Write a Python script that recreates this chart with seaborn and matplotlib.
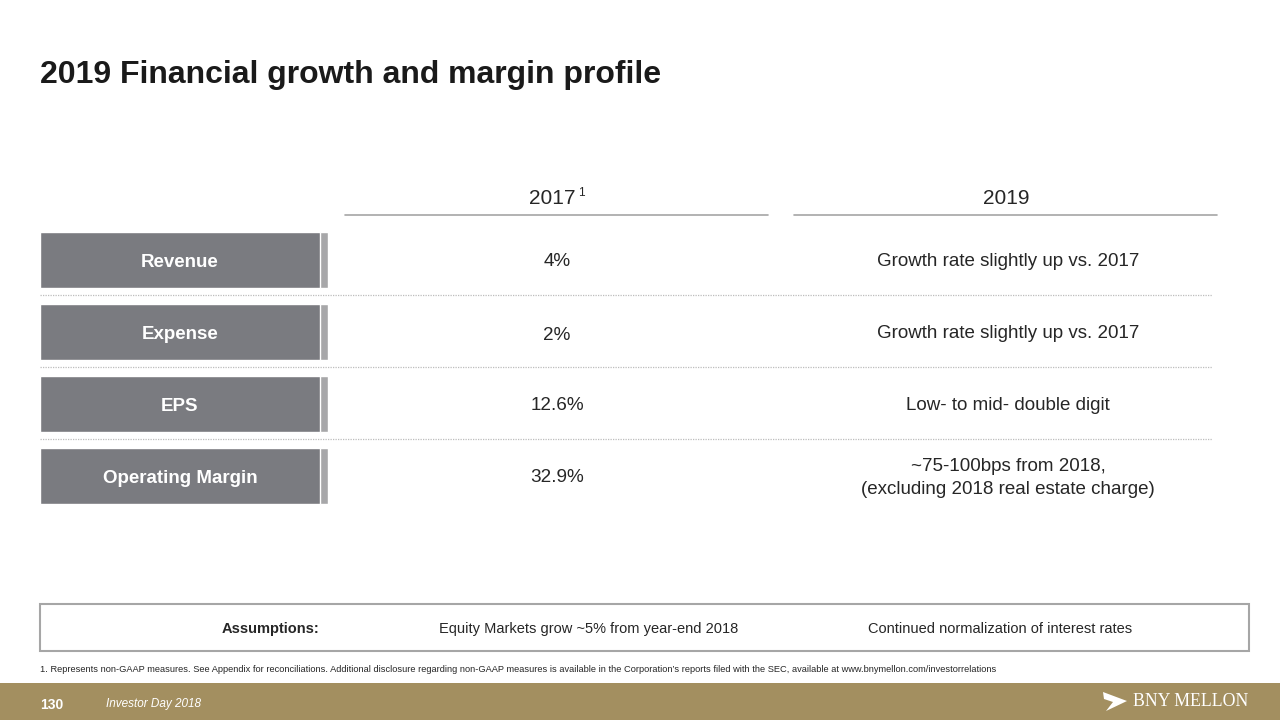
import matplotlib
matplotlib.use("Agg")
import matplotlib.pyplot as plt
import matplotlib.patches as mpatches
import seaborn as sns

# slide content
title = "2019 Financial growth and margin profile"
col_headers = ["2017", "2019"]
col_notes = ["1", ""]
metrics = ["Revenue", "Expense", "EPS", "Operating Margin"]
values_2017 = ["4%", "2%", "12.6%", "32.9%"]
outlook_2019 = ["Growth rate slightly up vs. 2017",
                "Growth rate slightly up vs. 2017",
                "Low- to mid- double digit",
                "~75-100bps from 2018,\n(excluding 2018 real estate charge)"]
assumptions = ["Equity Markets grow ~5% from year-end 2018",
               "Continued normalization of interest rates"]
footnote = ("1. Represents non-GAAP measures. See Appendix for reconciliations. Additional disclosure "
            "regarding non-GAAP measures is available in the Corporation\u2019s reports filed with the SEC, "
            "available at www.bnymellon.com/investorrelations")
page_no = "130"
event = "Investor Day 2018"

sns.set_theme(style="white")
plt.rcParams['font.family'] = ['Liberation Sans', 'DejaVu Sans']

W, H = 1280, 720
fig = plt.figure(figsize=(12.8, 7.2), dpi=100)
fig.patch.set_facecolor("white")

# background axes in pixel coords
ax = fig.add_axes([0, 0, 1, 1])
ax.set_xlim(0, W)
ax.set_ylim(H, 0)
ax.axis("off")

txt = "#262626"
gold = "#a38f60"
grey_line = "#a6a6a6"

ax.text(40, 75, title, fontsize=23, fontweight="bold", color="#1a1a1a",
        ha="left", va="center")

# column headers + underlines
col_x = [557, 1006]
for cx, h, note in zip(col_x, col_headers, col_notes):
    shift = -5 if note else 0
    ax.text(cx + shift, 199, h, fontsize=15, color=txt, ha="center", va="center")
    if note:
        ax.text(cx + 24, 193, note, fontsize=8.5, color=txt, ha="center", va="center")
    ax.plot([cx - 212, cx + 211], [215, 215], color=grey_line, lw=1.2)

# label boxes drawn with seaborn on an inset axes
row_top, row_pitch, box_h = 232, 72, 56
n = len(metrics)
y0 = row_top - (row_pitch - box_h) / 2
y1 = y0 + n * row_pitch
bx = fig.add_axes([40 / W, 1 - y1 / H, (328 - 40) / W, (y1 - y0) / H])
sns.barplot(x=[1.0] * n, y=metrics, orient="h", color="#a7a7a9",
            width=box_h / row_pitch, saturation=1, ax=bx)
sns.barplot(x=[(320 - 40) / (328 - 40)] * n, y=metrics, orient="h", color="#7a7b80",
            width=box_h / row_pitch, saturation=1, ax=bx)
bx.set_xlim(0, 1)
bx.set_ylim(n - 0.5, -0.5)
bx.axis("off")
for i, m in enumerate(metrics):
    bx.text(0.486, i + 0.03, m, fontsize=13.5, fontweight="bold", color="white",
            ha="center", va="center")

# row values
for i in range(n):
    cy = row_top + box_h / 2 + i * row_pitch + 2
    ax.text(col_x[0], cy + (1 if i == 1 else 0), values_2017[i], fontsize=13.6,
            color=txt, ha="center", va="center")
    ax.text(1008, cy, outlook_2019[i], fontsize=13.5, color=txt, ha="center",
            va="center", linespacing=1.45)
    if i < n - 1:
        sy = row_top + box_h + i * row_pitch + 7
        ax.plot([40, 1212], [sy, sy], color="#bdbdbd", lw=0.9, ls=(0, (1, 1)))

# assumptions box
ax.add_patch(mpatches.Rectangle((40, 604), 1209, 47, fill=False,
                                edgecolor=grey_line, lw=1.5))
ax.text(319, 629, "Assumptions:", fontsize=10.5, fontweight="bold", color=txt,
        ha="right", va="center")
ax.text(589, 629, assumptions[0], fontsize=10.5, color=txt, ha="center", va="center")
ax.text(1000, 629, assumptions[1], fontsize=10.5, color=txt, ha="center", va="center")

ax.text(40, 669, footnote, fontsize=6.7, color=txt, ha="left", va="center")

# footer band
ax.add_patch(mpatches.Rectangle((0, 683), W, 37, facecolor=gold, edgecolor="none"))
ax.text(40, 705, page_no, fontsize=10, fontweight="bold", color="white",
        ha="left", va="center")
ax.text(106, 704, event, fontsize=8.5, fontstyle="italic", color="white",
        ha="left", va="center")
ax.add_patch(mpatches.Polygon([(1103, 692), (1127, 701), (1106, 711), (1113, 702), (1104, 699)],
                              closed=True, facecolor="white", edgecolor="none"))
ax.text(1248, 701, "BNY MELLON", fontsize=12.8, color="white",
        family=["Liberation Serif", "DejaVu Serif"], ha="right", va="center")

fig.savefig("out.png", dpi=100)
